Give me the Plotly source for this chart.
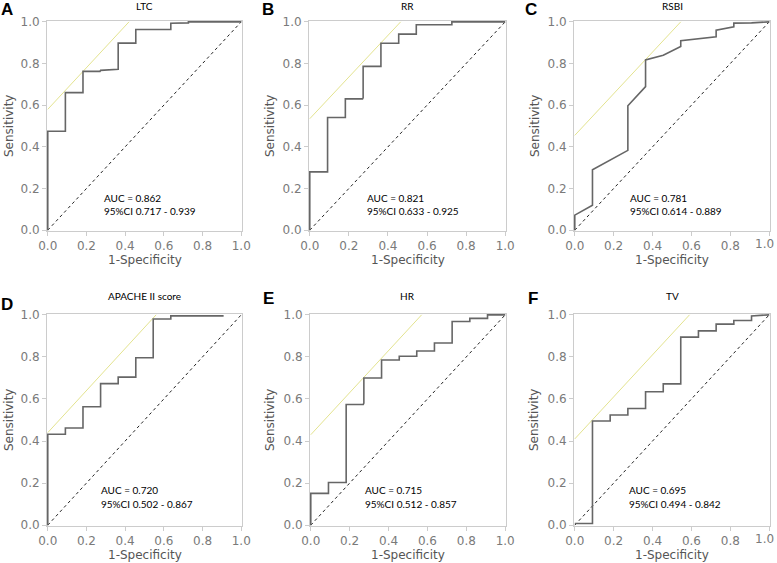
import plotly.graph_objects as go

W, H = 777, 563

panel_letters = ["A", "B", "C", "D", "E", "F"]
panel_titles = ["LTC", "RR", "RSBI", "APACHE II score", "HR", "TV"]
auc_values = ["0.862", "0.821", "0.781", "0.720", "0.715", "0.695"]
ci_values = ["0.717 - 0.939", "0.633 - 0.925", "0.614 - 0.889",
             "0.502 - 0.867", "0.512 - 0.857", "0.494 - 0.842"]

# ROC curve points (1-Specificity, Sensitivity)
fpr_A = [0, 0, 0.091, 0.091, 0.182, 0.182, 0.27, 0.273, 0.364, 0.364, 0.455, 0.455, 0.636, 0.636, 0.727, 0.727, 1.0]
tpr_A = [0, 0.475, 0.475, 0.66, 0.66, 0.762, 0.762, 0.767, 0.772, 0.898, 0.898, 0.963, 0.963, 0.993, 0.995, 1.0, 1.0]

fpr_B = [0, 0, 0.091, 0.091, 0.182, 0.182, 0.27, 0.273, 0.273, 0.364, 0.364, 0.455, 0.455, 0.545, 0.545, 0.727, 0.727, 1.0]
tpr_B = [0, 0.28, 0.28, 0.541, 0.541, 0.630, 0.630, 0.635, 0.786, 0.786, 0.897, 0.897, 0.941, 0.941, 0.986, 0.986, 1.0, 1.0]

fpr_C = [0, 0, 0.091, 0.091, 0.273, 0.273, 0.364, 0.364, 0.455, 0.545, 0.545, 0.727, 0.727, 0.818, 0.818, 0.909, 1.0]
tpr_C = [0, 0.072, 0.12, 0.29, 0.383, 0.597, 0.689, 0.817, 0.84, 0.882, 0.909, 0.928, 0.96, 0.976, 0.994, 0.995, 1.0]

fpr_D = [0, 0, 0.091, 0.091, 0.182, 0.182, 0.273, 0.273, 0.364, 0.364, 0.455, 0.455, 0.545, 0.545, 0.636, 0.636, 0.909]
tpr_D = [0, 0.432, 0.432, 0.462, 0.462, 0.563, 0.563, 0.673, 0.673, 0.704, 0.704, 0.796, 0.796, 0.98, 0.98, 0.995, 0.995]

fpr_E = [0, 0, 0.091, 0.091, 0.182, 0.182, 0.27, 0.273, 0.273, 0.364, 0.364, 0.455, 0.455, 0.545, 0.545, 0.636, 0.636, 0.727, 0.727, 0.818, 0.818, 0.909, 0.909, 1.0]
tpr_E = [0, 0.151, 0.151, 0.203, 0.203, 0.574, 0.574, 0.58, 0.70, 0.70, 0.785, 0.785, 0.803, 0.803, 0.828, 0.828, 0.866, 0.866, 0.968, 0.968, 0.983, 0.983, 1.0, 1.0]

fpr_F = [0, 0.091, 0.091, 0.182, 0.182, 0.273, 0.273, 0.364, 0.364, 0.455, 0.455, 0.545, 0.545, 0.636, 0.636, 0.727, 0.727, 0.818, 0.818, 0.909, 0.909, 1.0]
tpr_F = [0.008, 0.008, 0.495, 0.495, 0.524, 0.524, 0.555, 0.555, 0.634, 0.634, 0.672, 0.672, 0.894, 0.894, 0.924, 0.924, 0.956, 0.956, 0.973, 0.973, 0.995, 1.0]

fprs = [fpr_A, fpr_B, fpr_C, fpr_D, fpr_E, fpr_F]
tprs = [tpr_A, tpr_B, tpr_C, tpr_D, tpr_E, tpr_F]

# Yellow tangent line (slope 1) intercepts on the Sensitivity axis
tangent_intercepts = [0.58, 0.535, 0.455, 0.44, 0.43, 0.41]

tick_vals = [0.0, 0.2, 0.4, 0.6, 0.8, 1.0]
tick_text = ["0.0", "0.2", "0.4", "0.6", "0.8", "1.0"]

# layout (pixel boxes of plot areas)
boxes = [(47, 242, 21, 231), (309, 506, 21, 231), (574, 770, 21, 231),
         (47, 242, 314, 526), (310, 506, 314, 526), (574, 770, 314, 526)]
letter_pos = [(7, 10), (268, 9), (531, 9), (7, 304), (268, 298), (533, 298)]
title_y = [6, 6, 6, 296, 296, 296]
ytitle_x = [9, 270, 535, 9, 270, 534]
auc_pos = [(0.28, 0.156, 0.092), (0.284, 0.156, 0.092), (0.272, 0.156, 0.092),
           (0.265, 0.165, 0.099), (0.267, 0.165, 0.099), (0.269, 0.165, 0.099)]
# right-most x tick label is pulled inside the page for panels at the right edge
edge_panels = [2, 5]

tick_font = dict(family="DejaVu Sans", size=12, color="#7a7a7a")

fig = go.Figure()
annotations = []
layout_axes = {}

for i in range(6):
    n = "" if i == 0 else str(i + 1)
    xa, ya = "x" + n, "y" + n
    x0, x1, y0, y1 = boxes[i]
    # diagonal reference
    fig.add_trace(go.Scatter(x=[0, 1], y=[0, 1], xaxis=xa, yaxis=ya, mode="lines",
                             line=dict(color="#222222", width=1, dash="dot"),
                             showlegend=False, hoverinfo="skip"))
    c = tangent_intercepts[i]
    fig.add_trace(go.Scatter(x=[0, 1 - c], y=[c, 1], xaxis=xa, yaxis=ya, mode="lines",
                             line=dict(color="#e3e38f", width=1),
                             showlegend=False, hoverinfo="skip"))
    fig.add_trace(go.Scatter(x=fprs[i], y=tprs[i], xaxis=xa, yaxis=ya, mode="lines",
                             line=dict(color="#666666", width=1.6),
                             showlegend=False, name=panel_titles[i]))
    axis_common = dict(range=[-0.004, 1.004], tickvals=tick_vals,
                       showgrid=False, zeroline=False, showline=True, mirror=True,
                       linecolor="#cccccc", linewidth=1, ticks="outside", ticklen=4,
                       tickcolor="#cccccc", tickfont=tick_font,
                       automargin=False, fixedrange=True)
    xt = list(tick_text)
    if i in edge_panels:
        xt[-1] = ""
        annotations.append(dict(text=tick_text[-1], x=(x1 - 6) / W, y=1 - (y1 + 4) / H,
                                xref="paper", yref="paper", showarrow=False,
                                xanchor="center", yanchor="top", font=tick_font))
    layout_axes["xaxis" + n] = dict(axis_common, ticktext=xt,
                                    domain=[x0 / W, x1 / W], anchor=ya)
    layout_axes["yaxis" + n] = dict(axis_common, ticktext=tick_text,
                                    domain=[1 - y1 / H, 1 - y0 / H], anchor=xa)

    # panel letter
    lx, ly = letter_pos[i]
    annotations.append(dict(text="<b>" + panel_letters[i] + "</b>", x=lx / W, y=1 - ly / H,
                            xref="paper", yref="paper", showarrow=False,
                            xanchor="center", yanchor="middle",
                            font=dict(family="Liberation Sans", size=17, color="#000000")))
    # panel title
    annotations.append(dict(text=panel_titles[i], x=(x0 + x1) / 2 / W, y=1 - title_y[i] / H,
                            xref="paper", yref="paper", showarrow=False,
                            xanchor="center", yanchor="middle",
                            font=dict(family="Lato", size=10, color="#000000")))
    # axis titles
    annotations.append(dict(text="1-Specificity", x=(x0 + x1) / 2 / W, y=1 - (y1 + 29) / H,
                            xref="paper", yref="paper", showarrow=False,
                            xanchor="center", yanchor="middle",
                            font=dict(family="DejaVu Sans", size=12, color="#555555")))
    annotations.append(dict(text="Sensitivity", x=ytitle_x[i] / W, y=1 - (y0 + y1) / 2 / H,
                            xref="paper", yref="paper", showarrow=False, textangle=-90,
                            xanchor="center", yanchor="middle",
                            font=dict(family="DejaVu Sans", size=12, color="#555555")))
    # AUC text
    ax_, ay1, ay2 = auc_pos[i]
    annotations.append(dict(text="AUC = " + auc_values[i], x=ax_, y=ay1, xref=xa, yref=ya,
                            showarrow=False, xanchor="left", yanchor="middle",
                            font=dict(family="Lato", size=10, color="#000000")))
    annotations.append(dict(text="95%CI " + ci_values[i], x=ax_, y=ay2, xref=xa, yref=ya,
                            showarrow=False, xanchor="left", yanchor="middle",
                            font=dict(family="Lato", size=10, color="#000000")))

fig.update_layout(width=W, height=H, margin=dict(l=0, r=0, t=0, b=0, autoexpand=False),
                  paper_bgcolor="white", plot_bgcolor="white",
                  annotations=annotations, **layout_axes)

fig.write_html("out.html", config={"displayModeBar": False},
               post_script="document.body.style.margin='0';document.body.style.overflow='hidden';")
